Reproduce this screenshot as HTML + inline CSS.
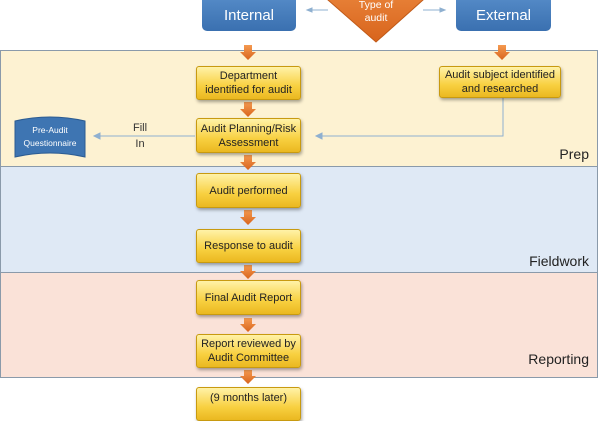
<!DOCTYPE html>
<html><head><style>
body{margin:0;width:600px;height:400px;overflow:hidden;background:#fff;font-family:"Liberation Sans",sans-serif;position:relative}
.band{position:absolute;left:0;width:598px;border:1px solid #8a9aaa;box-sizing:border-box}
.lbl{position:absolute;right:8px;font-size:14px;color:#222}
.y{position:absolute;left:196px;width:105px;box-sizing:border-box;border:1px solid #c89a10;border-radius:3px;background:linear-gradient(#fff2a8,#f8d040 60%,#eab820);box-shadow:1px 2px 3px rgba(0,0,0,.35);display:flex;align-items:center;justify-content:center;text-align:center;font-size:11px;line-height:14px;color:#222}
.b{position:absolute;background:linear-gradient(#5a90cc,#3a70b0);border-radius:5px;color:#fff;font-size:15px;display:flex;align-items:center;justify-content:center}
</style></head><body>
<div class="band" style="top:50px;height:117px;background:#fdf2d2"><div class="lbl" style="top:95px">Prep</div></div>
<div class="band" style="top:166px;height:107px;background:#dfe9f5"><div class="lbl" style="top:86px">Fieldwork</div></div>
<div class="band" style="top:272px;height:106px;background:#fae2d8"><div class="lbl" style="top:78px">Reporting</div></div>

<div class="b" style="left:202px;top:-10px;width:94px;height:41px;padding-top:10px;box-sizing:border-box">Internal</div>
<div class="b" style="left:456px;top:-10px;width:95px;height:41px;padding-top:10px;box-sizing:border-box">External</div>
<svg style="position:absolute;left:0;top:0" width="600" height="400">
<defs><linearGradient id="o" x1="0" y1="0" x2="0" y2="1"><stop offset="0" stop-color="#f59a50"/><stop offset="1" stop-color="#d8641c"/></linearGradient></defs>
<polygon points="328,0 376,-46 423,0 376,42" fill="url(#o)" stroke="#c05a18"/>
<text x="376" y="8" fill="#fff" font-size="10.5" text-anchor="middle" font-family="Liberation Sans">Type of</text>
<text x="376" y="21" fill="#fff" font-size="10.5" text-anchor="middle" font-family="Liberation Sans">audit</text>
<g stroke="#8fb0d0" stroke-width="1" fill="#8fb0d0">
<line x1="310" y1="10" x2="328" y2="10"/><polygon points="307,10 312,8 312,12"/>
<line x1="423" y1="10" x2="442" y2="10"/><polygon points="445,10 440,8 440,12"/>
<line x1="97" y1="136" x2="195" y2="136"/><polygon points="94,136 100,133 100,139"/>
<polyline points="503,97 503,136 320,136" fill="none"/><polygon points="316,136 322,133 322,139"/>
</g>
<path d="M15,121 Q50,113 85,121 L85,157 Q50,149 15,157 Z" fill="#3e75b2" stroke="#2c5c92"/>
<text x="50" y="133" fill="#fff" font-size="8.5" text-anchor="middle" font-family="Liberation Sans">Pre-Audit</text>
<text x="50" y="146" fill="#fff" font-size="8.5" text-anchor="middle" font-family="Liberation Sans">Questionnaire</text>
<text x="140" y="131" fill="#333" font-size="11" text-anchor="middle" font-family="Liberation Sans">Fill</text>
<text x="140" y="147" fill="#333" font-size="11" text-anchor="middle" font-family="Liberation Sans">In</text>
<g fill="url(#o)">
<path d="M244,45 h8 v7 h4 l-8,8 l-8,-8 h4z"/>
<path d="M498,45 h8 v7 h4 l-8,8 l-8,-8 h4z"/>
<path d="M244,102 h8 v7 h4 l-8,8 l-8,-8 h4z"/>
<path d="M244,155 h8 v7 h4 l-8,8 l-8,-8 h4z"/>
<path d="M244,210 h8 v7 h4 l-8,8 l-8,-8 h4z"/>
<path d="M244,265 h8 v6 h4 l-8,8 l-8,-8 h4z"/>
<path d="M244,318 h8 v6 h4 l-8,8 l-8,-8 h4z"/>
<path d="M244,370 h8 v6 h4 l-8,8 l-8,-8 h4z"/>
</g>
</svg>
<div class="y" style="top:66px;height:34px">Department<br>identified for audit</div>
<div class="y" style="left:439px;width:122px;top:66px;height:32px">Audit subject identified<br>and researched</div>
<div class="y" style="top:118px;height:35px">Audit Planning/Risk<br>Assessment</div>
<div class="y" style="top:173px;height:35px">Audit performed</div>
<div class="y" style="top:229px;height:34px">Response to audit</div>
<div class="y" style="top:280px;height:35px">Final Audit Report</div>
<div class="y" style="top:334px;height:34px">Report reviewed by<br>Audit Committee</div>
<div class="y" style="top:387px;height:34px;align-items:flex-start;padding-top:3px">(9 months later)</div>
</body></html>
